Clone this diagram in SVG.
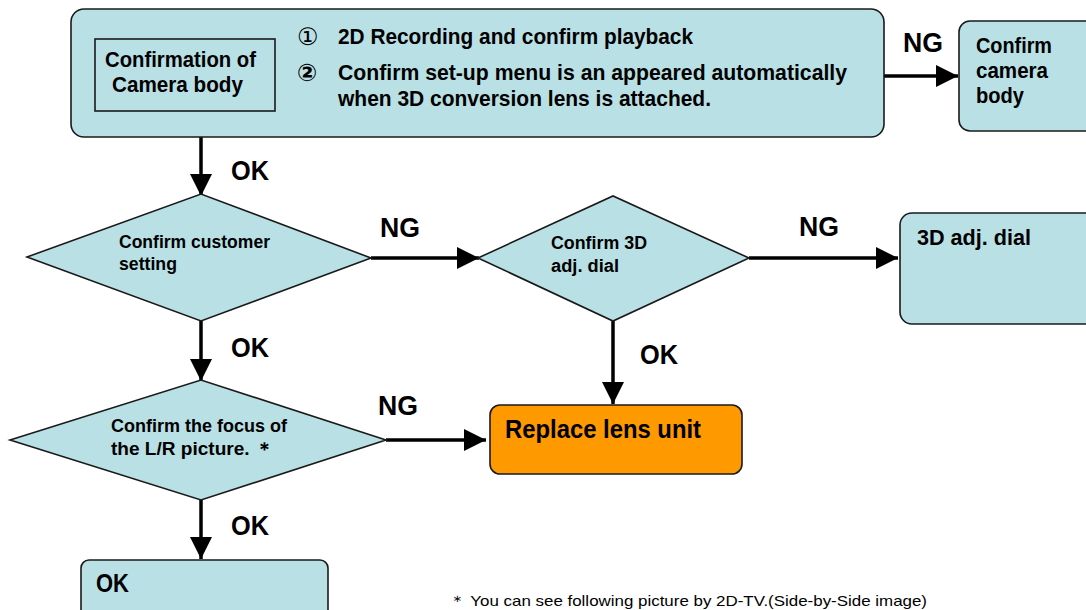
<svg xmlns="http://www.w3.org/2000/svg" width="1086" height="610" viewBox="0 0 1086 610">
<defs>
<style>
.box{fill:#b9e0e4;stroke:#1a1a1a;stroke-width:1.6}
.org{fill:#ff9900;stroke:#1a1a1a;stroke-width:1.6}
.inner{fill:none;stroke:#1a1a1a;stroke-width:1.6}
.t{font-family:"Liberation Sans",Arial,sans-serif;fill:#000;font-weight:bold}
.num{font-family:"DejaVu Sans","Noto Sans CJK JP",sans-serif;fill:#000;font-size:24px}
.lbl{font-family:"Liberation Sans",Arial,sans-serif;fill:#000;font-weight:bold;font-size:28px}
.con{stroke:#000;stroke-width:3.5;fill:none;marker-end:url(#ah)}
.note{font-family:"Liberation Sans",Arial,sans-serif;fill:#000;font-size:15px}
</style>
<marker id="ah" markerUnits="userSpaceOnUse" markerWidth="24" markerHeight="22" refX="22" refY="11" orient="auto">
<path d="M0,0 L22,11 L0,22 Z" fill="#000"/>
</marker>
</defs>
<rect width="1086" height="610" fill="#fff"/>

<g id="connectors">
<path class="con" d="M884,76 H958"/>
<path class="con" d="M201,137 V196"/>
<path class="con" d="M371,258 H479"/>
<path class="con" d="M749,258 H898"/>
<path class="con" d="M613,321 V404"/>
<path class="con" d="M201,321 V381"/>
<path class="con" d="M386,440 H486"/>
<path class="con" d="M201,500 V559"/>
<text class="lbl" x="903" y="52" textLength="40" lengthAdjust="spacingAndGlyphs">NG</text>
<text class="lbl" x="231" y="180" textLength="38" lengthAdjust="spacingAndGlyphs">OK</text>
<text class="lbl" x="380" y="237" textLength="40" lengthAdjust="spacingAndGlyphs">NG</text>
<text class="lbl" x="799" y="236" textLength="40" lengthAdjust="spacingAndGlyphs">NG</text>
<text class="lbl" x="640" y="364" textLength="38" lengthAdjust="spacingAndGlyphs">OK</text>
<text class="lbl" x="231" y="357" textLength="38" lengthAdjust="spacingAndGlyphs">OK</text>
<text class="lbl" x="378" y="415" textLength="40" lengthAdjust="spacingAndGlyphs">NG</text>
<text class="lbl" x="231" y="535" textLength="38" lengthAdjust="spacingAndGlyphs">OK</text>
</g>

<g id="camera-check">
<rect class="box" x="71" y="9" width="813" height="128" rx="13"/>
<rect class="inner" x="95" y="39" width="180" height="72"/>
<text class="t" font-size="22" x="105" y="67" textLength="151" lengthAdjust="spacingAndGlyphs">Confirmation of</text>
<text class="t" font-size="22" x="112" y="92" textLength="131" lengthAdjust="spacingAndGlyphs">Camera body</text>
<text class="num" x="297" y="45">①</text>
<text class="t" font-size="22" x="338" y="44" textLength="355" lengthAdjust="spacingAndGlyphs">2D Recording and confirm playback</text>
<text class="num" x="297" y="81" font-weight="bold">②</text>
<text class="t" font-size="22" x="338" y="80" textLength="509" lengthAdjust="spacingAndGlyphs">Confirm set-up menu is an appeared automatically</text>
<text class="t" font-size="22" x="338" y="106" textLength="373" lengthAdjust="spacingAndGlyphs">when 3D conversion lens is attached.</text>
</g>

<g id="confirm-camera-body">
<rect class="box" x="959" y="21" width="140" height="110" rx="11"/>
<text class="t" font-size="22" x="976" y="53" textLength="76" lengthAdjust="spacingAndGlyphs">Confirm</text>
<text class="t" font-size="22" x="976" y="78" textLength="72" lengthAdjust="spacingAndGlyphs">camera</text>
<text class="t" font-size="22" x="976" y="103" textLength="48" lengthAdjust="spacingAndGlyphs">body</text>
</g>

<g id="customer-setting">
<polygon class="box" points="27,257 201,194 371,258 201,321"/>
<text class="t" font-size="18" x="119" y="248" textLength="151" lengthAdjust="spacingAndGlyphs">Confirm customer</text>
<text class="t" font-size="18" x="119" y="270" textLength="58" lengthAdjust="spacingAndGlyphs">setting</text>
</g>

<g id="adj-dial-check">
<polygon class="box" points="478,258 613,196 749,258 613,321"/>
<text class="t" font-size="18" x="551" y="249" textLength="96" lengthAdjust="spacingAndGlyphs">Confirm 3D</text>
<text class="t" font-size="18" x="551" y="272" textLength="68" lengthAdjust="spacingAndGlyphs">adj. dial</text>
</g>

<g id="adj-dial">
<rect class="box" x="900" y="213" width="200" height="111" rx="12"/>
<text class="t" font-size="22" x="917" y="245" textLength="114" lengthAdjust="spacingAndGlyphs">3D adj. dial</text>
</g>

<g id="replace-lens">
<rect class="org" x="490" y="405" width="252" height="69" rx="10"/>
<text class="t" font-size="26" x="505" y="438" textLength="196" lengthAdjust="spacingAndGlyphs">Replace lens unit</text>
</g>

<g id="focus-check">
<polygon class="box" points="10,440 201,380 386,440 201,500"/>
<text class="t" font-size="18" x="111" y="432" textLength="176" lengthAdjust="spacingAndGlyphs">Confirm the focus of</text>
<text class="t" font-size="18" x="111" y="455" textLength="163" lengthAdjust="spacingAndGlyphs">the L/R picture.  ＊</text>
</g>

<g id="ok-end">
<rect class="box" x="81" y="560" width="247" height="70" rx="8"/>
<text class="t" font-size="26" x="96" y="592" textLength="33" lengthAdjust="spacingAndGlyphs">OK</text>
</g>

<text class="note" x="449" y="606" textLength="478" lengthAdjust="spacingAndGlyphs">＊ You can see following picture by 2D-TV.(Side-by-Side image)</text>
</svg>
